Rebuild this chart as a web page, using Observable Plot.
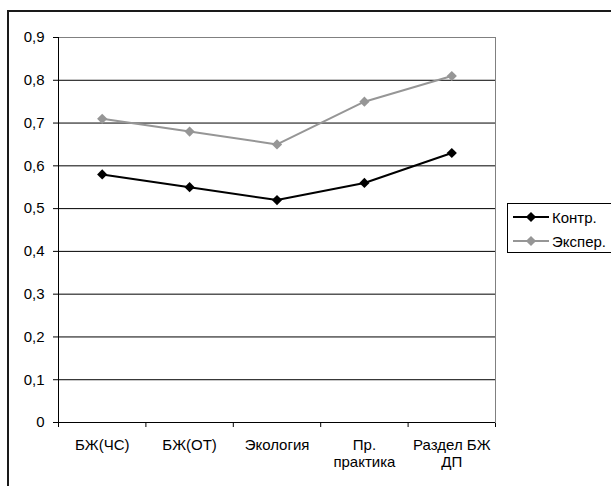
<!DOCTYPE html>
<html>
<head>
<meta charset="utf-8">
<script src="https://cdn.jsdelivr.net/npm/d3@7"></script>
<script src="https://cdn.jsdelivr.net/npm/@observablehq/plot@0.6"></script>
<style>
  html, body { margin: 0; padding: 0; background: #fff; }
  #wrap { position: relative; width: 611px; height: 486px; overflow: hidden; font-family: "Liberation Sans", Arial, sans-serif; }
  #frame { position: absolute; left: 7px; top: 10px; width: 620px; height: 500px; border: 2px solid #1a1a1a; box-sizing: border-box; }
  #chart { position: absolute; left: 0; top: 0; }
  #chart svg text { font-size: 15px; font-family: "Liberation Sans", Arial, sans-serif; }
  #legend { position: absolute; left: 507px; top: 203px; width: 110px; height: 50px; border: 1px solid #000; background: #fff; box-sizing: border-box; font-size: 15px; padding-top: 1px; }
  .row { display: flex; align-items: center; height: 24px; margin-left: 5px; }
  .row svg { margin-right: 3px; }
</style>
</head>
<body>
<div id="wrap">
  <div id="frame"></div>
  <div id="chart"></div>
  <div id="legend"></div>
</div>
<script>
const categories = ["БЖ(ЧС)", "БЖ(ОТ)", "Экология", "Пр.\nпрактика", "Раздел БЖ\nДП"];
const kontr = [0.58, 0.55, 0.52, 0.56, 0.63];
const eksper = [0.71, 0.68, 0.65, 0.75, 0.81];
const yTicks = [0, 0.1, 0.2, 0.3, 0.4, 0.5, 0.6, 0.7, 0.8, 0.9];
const seriesNames = ["Контр.", "Экспер."];
const seriesColors = ["#000000", "#969696"];
const seriesValues = [kontr, eksper];

const fmt = d => d === 0 ? "0" : d.toFixed(1).replace(".", ",");
const xIdx = (d, i) => i + 0.5;
const xBounds = d3.range(categories.length + 1);

const seriesMarks = seriesValues.flatMap((vals, s) => [
  Plot.line(vals, {x: xIdx, y: d => d, stroke: seriesColors[s], strokeWidth: 2}),
  Plot.dot(vals, {x: xIdx, y: d => d, symbol: "diamond2", r: 4.6, fill: seriesColors[s], stroke: "none"})
]);

const chart = Plot.plot({
  width: 611,
  height: 486,
  marginLeft: 58,
  marginRight: 116,
  marginTop: 37,
  marginBottom: 64,
  style: {fontFamily: "'Liberation Sans', Arial, sans-serif", fontSize: "15px", background: "transparent", color: "#000"},
  x: {type: "linear", domain: [0, categories.length], ticks: xBounds, tickSize: 5, tickFormat: () => "", label: null},
  y: {domain: [0, 0.9], ticks: yTicks, tickSize: 5, tickPadding: 9, tickFormat: fmt, label: null},
  marks: [
    Plot.ruleY(yTicks.filter(t => t > 0 && t < 0.9), {stroke: "#000", strokeWidth: 1}),
    Plot.frame({stroke: "#808080", strokeWidth: 1}),
    Plot.ruleX([0], {stroke: "#000", strokeWidth: 1}),
    Plot.ruleY([0], {stroke: "#000", strokeWidth: 1}),
    ...seriesMarks,
    Plot.text(categories, {x: xIdx, frameAnchor: "bottom", lineAnchor: "top", dy: 15, lineHeight: 1.15, fill: "#000", fontSize: 15})
  ]
});
document.getElementById("chart").appendChild(chart);

const legend = d3.select("#legend");
seriesNames.forEach((name, s) => {
  const row = legend.append("div").attr("class", "row");
  const svg = row.append("svg").attr("width", 36).attr("height", 12);
  svg.append("line").attr("x1", 0).attr("x2", 36).attr("y1", 6).attr("y2", 6)
    .attr("stroke", seriesColors[s]).attr("stroke-width", 2);
  svg.append("path").attr("d", d3.symbol(d3.symbolDiamond2, 66)()).attr("transform", "translate(18,6)")
    .attr("fill", seriesColors[s]);
  row.append("span").text(name);
});
</script>
</body>
</html>
